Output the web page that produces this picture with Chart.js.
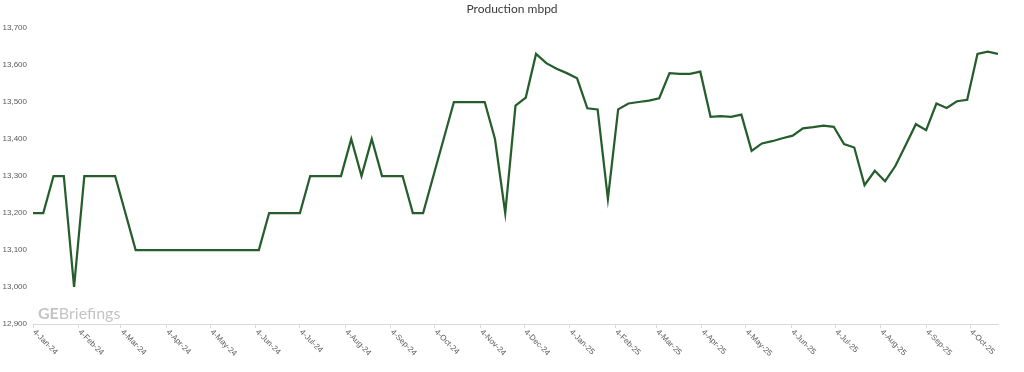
<!DOCTYPE html>
<html>
<head>
<meta charset="utf-8">
<script src="https://cdn.jsdelivr.net/npm/chart.js@4.4.1/dist/chart.umd.min.js"></script>
<style>
  html, body { margin: 0; padding: 0; background: #fff; }
  #wrap { width: 1024px; height: 372px; }
</style>
</head>
<body>
<div id="wrap"><canvas id="chart"></canvas></div>
<script>
// weekly readings starting 4-Jan-24
const startDate = '2024-01-04'
const chartTitle = 'Production mbpd'
const production = [
    13200, 13200, 13300, 13300, 13000, 13300, 13300, 13300, 13300, 13200,
    13100, 13100, 13100, 13100, 13100, 13100, 13100, 13100, 13100, 13100,
    13100, 13100, 13100, 13200, 13200, 13200, 13200, 13300, 13300, 13300,
    13300, 13400, 13300, 13400, 13300, 13300, 13300, 13200, 13200, 13300,
    13400, 13500, 13500, 13500, 13500, 13400, 13200, 13490, 13512, 13630,
    13605, 13590, 13578, 13564, 13483, 13480, 13238, 13480, 13496, 13500,
    13504, 13510, 13578, 13576, 13576, 13582, 13460, 13462, 13460, 13466,
    13368, 13388, 13394, 13402, 13409, 13429, 13432, 13436, 13433, 13386,
    13377, 13275, 13314, 13286, 13327, 13383, 13440, 13424, 13496, 13484,
    13502, 13506, 13630, 13636, 13630
]
const tickLabels = [
    '4-Jan-24', '4-Feb-24', '4-Mar-24', '4-Apr-24', '4-May-24', '4-Jun-24',
    '4-Jul-24', '4-Aug-24', '4-Sep-24', '4-Oct-24', '4-Nov-24', '4-Dec-24',
    '4-Jan-25', '4-Feb-25', '4-Mar-25', '4-Apr-25', '4-May-25', '4-Jun-25',
    '4-Jul-25', '4-Aug-25', '4-Sep-25', '4-Oct-25'
]
const yTicks = [12900, 13000, 13100, 13200, 13300, 13400, 13500, 13600, 13700]

const MONTHS = ['Jan','Feb','Mar','Apr','May','Jun','Jul','Aug','Sep','Oct','Nov','Dec']
const DAY = 86400000
const t0 = Date.parse(startDate + 'T00:00:00Z')

function labelToDay(label) {
    const [d, m, y] = label.split('-')
    const t = Date.UTC(2000 + Number(y), MONTHS.indexOf(m), Number(d))
    return Math.round((t - t0) / DAY)
}

const points = production.map((v, i) => ({x: i * 7, y: v}))
const tickDays = tickLabels.map(labelToDay)

// title centred on the whole page, not the padded layout box
const pageTitle = {
    id: 'pageTitle',
    afterDraw(chart) {
        const ctx = chart.ctx
        ctx.save()
        ctx.fillStyle = '#3a3a3a'
        ctx.font = '12px Lato'
        ctx.textAlign = 'center'
        ctx.textBaseline = 'middle'
        ctx.fillText(chartTitle, chart.width / 2, 9)
        ctx.restore()
    }
}

const watermark = {
    id: 'watermark',
    afterDraw(chart) {
        const ctx = chart.ctx
        ctx.save()
        ctx.fillStyle = '#c4c4c4'
        ctx.textBaseline = 'alphabetic'
        ctx.textAlign = 'left'
        ctx.font = 'bold 16px Lato'
        ctx.fillText('GE', 38, 319)
        const w = ctx.measureText('GE').width
        ctx.font = '16px Lato'
        ctx.fillText('Briefings', 38 + w, 319)
        ctx.restore()
    }
}

// excel style labels: start at the tick, slanting down to the right
const slantLabels = {
    id: 'slantLabels',
    afterDraw(chart) {
        const ctx = chart.ctx
        const xs = chart.scales.x
        ctx.save()
        ctx.fillStyle = '#595959'
        ctx.font = '8px "Liberation Sans"'
        ctx.textAlign = 'left'
        ctx.textBaseline = 'middle'
        tickLabels.forEach((lab, i) => {
            const px = xs.getPixelForValue(tickDays[i])
            ctx.save()
            ctx.translate(px + 1, xs.top + 7)
            ctx.rotate(Math.PI / 4)
            ctx.fillText(lab, 0, 0)
            ctx.restore()
        })
        ctx.restore()
    }
}

new Chart(document.getElementById('chart'), {
    type: 'line',
    data: {
        datasets: [{
            label: chartTitle,
            data: points,
            borderColor: '#255e2c',
            borderWidth: 2.25,
            pointRadius: 0,
            tension: 0,
            fill: false
        }]
    },
    options: {
        responsive: true,
        maintainAspectRatio: false,
        animation: false,
        layout: { padding: { left: 2, right: 26, top: 28, bottom: 0 } },
        plugins: {
            legend: { display: false },
            tooltip: { enabled: false },
            title: { display: false }
        },
        scales: {
            x: {
                type: 'linear',
                min: 0,
                max: (production.length - 1) * 7,
                afterBuildTicks: s => { s.ticks = tickDays.map(v => ({value: v})) },
                afterFit: s => { s.height = 48 },
                ticks: { display: false },
                grid: { drawOnChartArea: false, drawTicks: true, tickLength: 4, color: '#d9d9d9' },
                border: { display: true, color: '#d9d9d9', width: 1 }
            },
            y: {
                min: yTicks[0],
                max: yTicks[yTicks.length - 1],
                afterBuildTicks: s => { s.ticks = yTicks.map(v => ({value: v})) },
                afterFit: s => { s.width = 31 },
                ticks: {
                    color: '#595959',
                    font: { family: 'Liberation Sans', size: 8 },
                    padding: 6,
                    callback: v => v.toLocaleString('en-US')
                },
                grid: { display: false, drawTicks: false },
                border: { display: false }
            }
        }
    },
    plugins: [pageTitle, watermark, slantLabels]
})
</script>
</body>
</html>
